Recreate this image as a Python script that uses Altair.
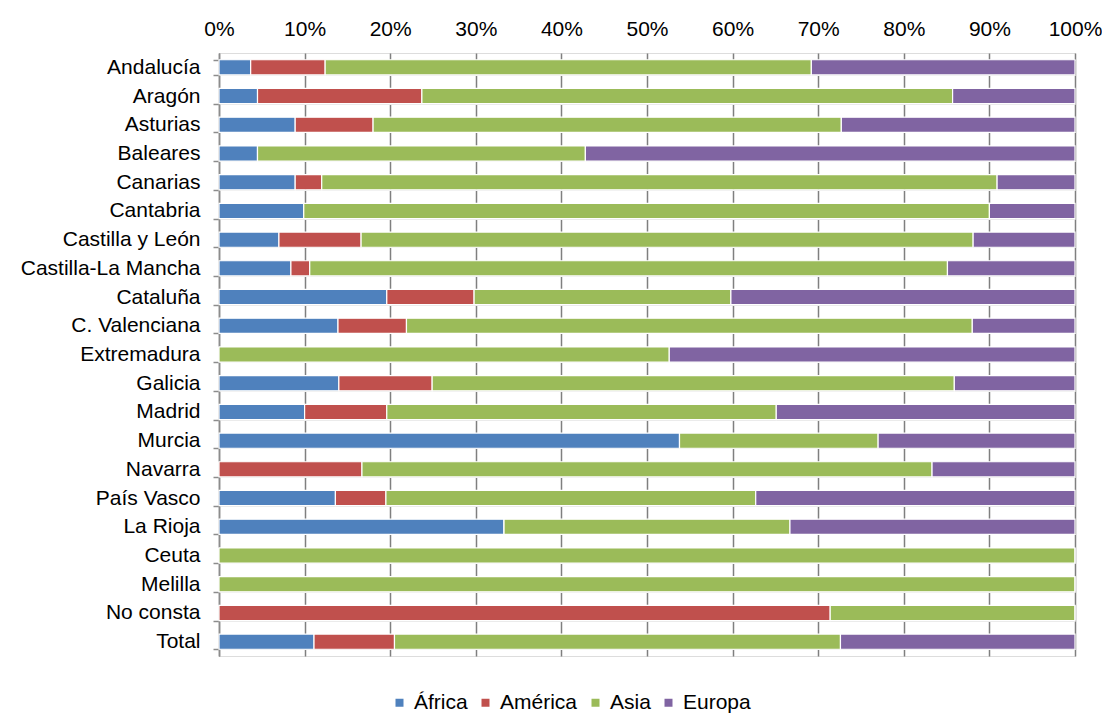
import altair as alt
import pandas as pd

regions = ["Andalucía", "Aragón", "Asturias", "Baleares", "Canarias", "Cantabria",
           "Castilla y León", "Castilla-La Mancha", "Cataluña", "C. Valenciana",
           "Extremadura", "Galicia", "Madrid", "Murcia", "Navarra", "País Vasco",
           "La Rioja", "Ceuta", "Melilla", "No consta", "Total"]
continents = ["África", "América", "Asia", "Europa"]
colors = ["#4F81BD", "#C0504D", "#9BBB59", "#8064A2"]

africa = [3.7, 4.5, 8.9, 4.5, 8.9, 9.9, 7.0, 8.4, 19.6, 13.9, 0.0, 14.0, 10.0, 53.8, 0.0, 13.6, 33.3, 0.0, 0.0, 0.0, 11.1]
america = [8.7, 19.2, 9.1, 0.0, 3.1, 0.0, 9.6, 2.2, 10.2, 8.0, 0.0, 10.9, 9.6, 0.0, 16.7, 5.9, 0.0, 0.0, 0.0, 71.4, 9.4]
asia = [56.8, 62.0, 54.7, 38.3, 78.9, 80.1, 71.5, 74.5, 30.0, 66.1, 52.6, 61.0, 45.5, 23.2, 66.6, 43.2, 33.4, 100.0, 100.0, 28.6, 52.1]
europa = [30.8, 14.3, 27.3, 57.2, 9.1, 10.0, 11.9, 14.9, 40.2, 12.0, 47.4, 14.1, 34.9, 23.0, 16.7, 37.3, 33.3, 0.0, 0.0, 0.0, 27.4]

rows = []
for i, r in enumerate(regions):
    for k, (c, vals) in enumerate(zip(continents, [africa, america, asia, europa])):
        rows.append({"region": r, "continent": c, "value": vals[i], "ord": k})
df = pd.DataFrame(rows)

FONT = "Liberation Sans"

bars = alt.Chart(df).mark_bar(stroke="white", strokeWidth=1.2).encode(
    y=alt.Y("region:N", sort=regions, title=None,
            scale=alt.Scale(paddingInner=0.47, paddingOuter=0.235),
            axis=alt.Axis(tickBand="extent", grid=True, gridColor="#e4e4e4",
                          gridWidth=1, domainColor="#8c8c8c", tickColor="#8c8c8c",
                          tickSize=6, domainWidth=1.5, tickWidth=1.5,
                          labelFont=FONT, labelFontSize=21, labelColor="#000000",
                          labelPadding=13)),
    x=alt.X("value:Q", stack="normalize", title=None,
            scale=alt.Scale(domain=[0, 1], nice=False),
            axis=alt.Axis(orient="top", format=".0%", values=[i / 10 for i in range(11)],
                          grid=True, gridColor="#7f7f7f", gridWidth=1.5,
                          domain=False, ticks=False, labelPadding=14, labelFlush=False,
                          labelFont=FONT, labelFontSize=21, labelColor="#000000")),
    color=alt.Color("continent:N", sort=continents,
                    scale=alt.Scale(domain=continents, range=colors),
                    legend=alt.Legend(title=None, orient="none", direction="horizontal",
                                      legendX=170, legendY=639,
                                      symbolType="square", symbolSize=64,
                                      symbolStrokeWidth=0,
                                      labelFont=FONT, labelFontSize=21,
                                      labelColor="#000000", columnPadding=7,
                                      labelOffset=4)),
    order=alt.Order("ord:Q"),
)

chart = bars.properties(
    width=856, height=603,
    autosize=alt.AutoSizeParams(type="none"),
    padding={"left": 211, "top": 45, "right": 27, "bottom": 58},
).configure_view(stroke=None).configure(background="white")

chart.save("out.html", embed_options={"renderer": "svg", "actions": False})
